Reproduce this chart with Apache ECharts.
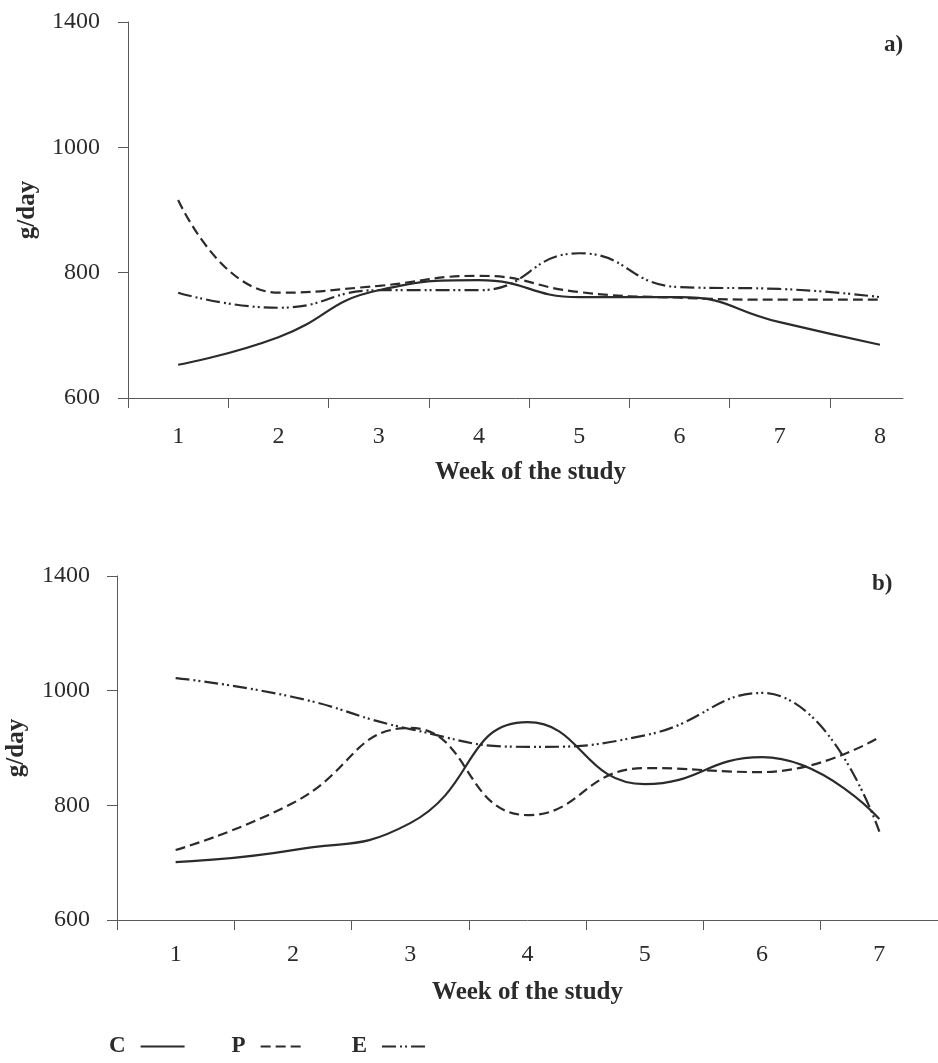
<!DOCTYPE html>
<html>
<head>
<meta charset="utf-8">
<script src="https://cdn.jsdelivr.net/npm/echarts@6/dist/echarts.min.js"></script>
<style>
  html, body { margin: 0; background: #ffffff; }
  #chart { width: 938px; height: 1063px; }
</style>
</head>
<body>
<div id="chart"></div>
<script>
// panel a) weeks 1-8
const weeksA = [1, 2, 3, 4, 5, 6, 7, 8];
const cA = [653, 697, 772, 788, 761, 761, 721, 685];
const pA = [916, 768, 779, 795, 769, 760, 757, 757];
const eA = [768, 744, 772, 772, 831, 777, 774, 761];
// panel b) weeks 1-7
const weeksB = [1, 2, 3, 4, 5, 6, 7];
const cB = [701, 722, 769, 945, 837, 884, 776];
const pB = [722, 804, 935, 783, 865, 858, 919];
const eB = [1022, 989, 933, 902, 922, 996, 754];
// y tick labels as printed (top tick reads 1400)
const yTicks = [600, 800, 1000, 1200];
const yTickLabels = ['600', '800', '1000', '1400'];

const ink = '#2b2b2b';
const axisInk = '#5a5a5a';
const serif = '"Liberation Serif", "DejaVu Serif", serif';
const dashes = { C: 'solid', P: [10, 5], E: [14, 4, 2, 3, 2, 4] };

function line(name, xs, ys, gi) {
  return {
    name: name,
    type: 'line',
    xAxisIndex: gi,
    yAxisIndex: gi,
    data: xs.map((x, i) => [x, ys[i]]),
    smooth: true,
    symbol: 'none',
    lineStyle: { color: ink, width: 2.2, type: dashes[name] },
    itemStyle: { color: ink },
    emphasis: { disabled: true }
  };
}

function xAxis(gi, weeks, max, gap, margin, pad) {
  return {
    type: 'value',
    gridIndex: gi,
    min: 0.5,
    max: max,
    name: 'Week of the study',
    nameLocation: 'middle',
    nameGap: gap,
    nameTextStyle: { fontFamily: serif, fontWeight: 'bold', fontSize: 25, color: ink, padding: pad },
    axisLine: { lineStyle: { color: axisInk, width: 1 } },
    axisTick: { length: 10, lineStyle: { color: axisInk }, customValues: weeks.map(w => w - 0.5) },
    axisLabel: { customValues: weeks, margin: margin, fontFamily: serif, fontSize: 24, color: ink },
    splitLine: { show: false }
  };
}

function yAxis(gi, margin) {
  return {
    type: 'value',
    gridIndex: gi,
    min: 600,
    max: 1200,
    interval: 200,
    name: 'g/day',
    nameLocation: 'middle',
    nameRotate: 90,
    nameGap: 88,
    nameTextStyle: { fontFamily: serif, fontWeight: 'bold', fontSize: 25, color: ink },
    axisLine: { show: true, lineStyle: { color: axisInk, width: 1 } },
    axisTick: { show: true, length: 10, lineStyle: { color: axisInk } },
    axisLabel: {
      margin: margin,
      fontFamily: serif,
      fontSize: 24,
      color: ink,
      formatter: v => yTickLabels[yTicks.indexOf(v)]
    },
    splitLine: { show: false }
  };
}

const chart = echarts.init(document.getElementById('chart'));
chart.setOption({
  animation: false,
  backgroundColor: '#ffffff',
  title: [
    { text: 'a)', left: 879, top: 29, textStyle: { fontFamily: serif, fontWeight: 'bold', fontSize: 23, color: ink } },
    { text: 'b)', left: 867, top: 568, textStyle: { fontFamily: serif, fontWeight: 'bold', fontSize: 23, color: ink } }
  ],
  legend: {
    left: 104,
    top: 1030,
    align: 'right',
    itemWidth: 44,
    itemHeight: 14,
    itemGap: 46,
    data: ['C', 'P', 'E'],
    itemStyle: { color: 'rgba(0,0,0,0)', borderWidth: 0 },
    textStyle: { fontFamily: serif, fontWeight: 'bold', fontSize: 23, color: ink, padding: [0, 10, 0, 0] }
  },
  grid: [
    { left: 128, right: 35, top: 22, bottom: 665, outerBoundsMode: 'none' },
    { left: 117, right: 0, top: 576, bottom: 143, outerBoundsMode: 'none' }
  ],
  xAxis: [
    xAxis(0, weeksA, 8.23, 62, 27, [0, 0, 0, 30]),
    xAxis(1, weeksB, 7.5, 60, 23, [0, 0, 0, 0])
  ],
  yAxis: [yAxis(0, 28), yAxis(1, 27)],
  series: [
    line('C', weeksA, cA, 0),
    line('P', weeksA, pA, 0),
    line('E', weeksA, eA, 0),
    line('C', weeksB, cB, 1),
    line('P', weeksB, pB, 1),
    line('E', weeksB, eB, 1)
  ]
});
</script>
</body>
</html>
